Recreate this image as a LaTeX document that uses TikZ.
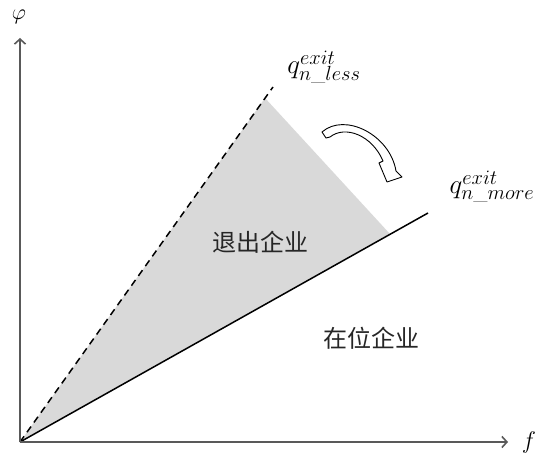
\documentclass[tikz,border=0pt]{standalone}
\usepackage{fontspec}
\newfontfamily\cjk{Noto Sans CJK SC}
\usetikzlibrary{arrows.meta}
\DeclareFontShape{OML}{cmm}{m}{it}{<-8>cmmi7 <8-11>cmmi10 <11->cmmi12}{}
\newcommand{\scr}[1]{\mbox{\fontsize{20.5}{22}\selectfont$#1$}}
\begin{document}
\begin{tikzpicture}[x=1pt,y=-1pt,
  axis/.style={line width=1.8pt,draw=black!65,-{Straight Barb[length=5pt,width=11pt,line width=1.6pt]}},
  mathlbl/.style={inner sep=0pt,font=\fontsize{27}{30}\selectfont},
  cjklbl/.style={inner sep=0pt,font=\cjk\fontsize{24}{26}\selectfont,text=black!85},
  bound/.style={line width=1.5pt,draw=black}]
\useasboundingbox (0,0) rectangle (538,454);
\coordinate (O) at (20,442);
\coordinate (ytip) at (20,38);
\coordinate (xtip) at (508,442);
\coordinate (dend) at (273,87);
\coordinate (send) at (428,213);
\coordinate (gtop) at (265,98);
\coordinate (gright) at (390,234);
% shaded region
\fill[black!15] (O) -- (gtop) -- (gright) -- cycle;
% boundaries
\draw[bound,dash pattern=on 7pt off 5pt] (O) -- (dend);
\draw[bound] (O) -- (send);
% axes
\draw[axis] (O) -- (ytip);
\draw[axis] (O) -- (xtip);
% axis labels
\node[mathlbl,font=\fontsize{22}{24}\selectfont] (phi) at (19,17) {$\varphi$};
\node[mathlbl,font=\fontsize{24}{26}\selectfont] (f) at (529,442) {$f$};
% line labels
\node[mathlbl] (qless) at (324,67) {$q^{\scr{exit}}_{\scr{n\_less}}$};
\node[mathlbl] (qmore) at (492,187) {$q^{\scr{exit}}_{\scr{n\_more}}$};
% region labels
\node[cjklbl] (exitfirms) at (260,242) {退出企业};
\node[cjklbl] (incumbents) at (371,338) {在位企业};
% curved hollow arrow
\draw[line width=0.9pt,fill=white,line join=round]
  (322,132) .. controls (345,112) and (390,135) .. (396,171)
  -- (402,177) -- (387,182) -- (379,163) -- (383,161)
  .. controls (372,135) and (345,125) .. (330,137)
  -- (326,138) -- cycle;
\end{tikzpicture}
\end{document}
